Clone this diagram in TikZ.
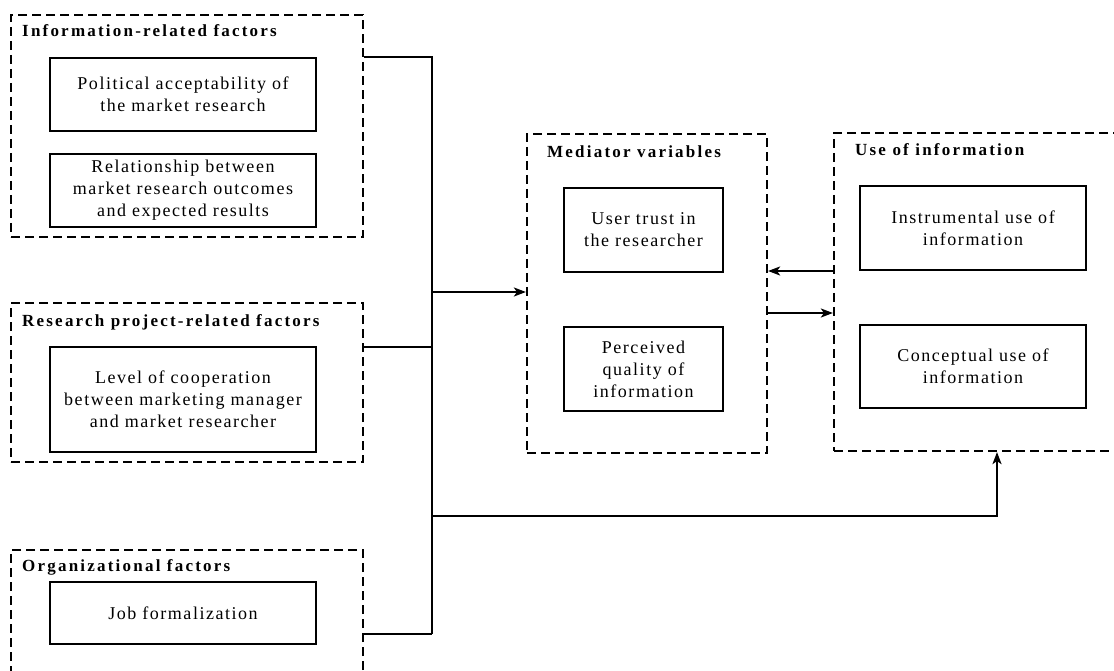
\documentclass[tikz,border=0pt]{standalone}
\usepackage{fontspec}
\setmainfont{Liberation Serif}
\newfontfamily\bodyfont{Liberation Serif}[LetterSpace=8.5]
\newfontfamily\headfont{Liberation Serif Bold}[LetterSpace=13]
\usetikzlibrary{arrows.meta}
\begin{document}
\begin{tikzpicture}[x=1pt,y=-1pt,
  group/.style={draw, dashed, dash pattern=on 9pt off 5pt, line width=2.2pt, inner sep=0pt},
  item/.style={draw, line width=1.5pt, inner sep=0pt, align=center,
    font=\bodyfont\fontsize{18}{22}\selectfont},
  head/.style={anchor=base west, inner sep=0pt, font=\headfont\fontsize{17}{20}\selectfont},
  link/.style={line width=1.7pt},
  arr/.style={line width=1.9pt, -{Stealth[length=12pt,width=9pt,inset=3pt]}}]
\useasboundingbox (0,0) rectangle (1114,671);
\clip (0,0) rectangle (1114,671);
% groups
\node[group, minimum width=352pt, minimum height=222pt] (G1) at (187,126) {};
\node[group, minimum width=352pt, minimum height=159pt] (G2) at (187,382.5) {};
\node[group, minimum width=352pt, minimum height=160pt] (G3) at (187,630) {};
\node[group, minimum width=240pt, minimum height=319pt] (M) at (647,293.5) {};
\node[group, minimum width=300pt, minimum height=318pt] (U) at (984,292) {};
% titles
\node[head] (T1) at (22,37) {Information-related factors};
\node[head] (T2) at (22,326) {Research project-related factors};
\node[head] (T3) at (22,571) {Organizational factors};
\node[head] (TM) at (547,158) {Mediator variables};
\node[head] (TU) at (855,156) {Use of information};
% items
\node[item, minimum width=266pt, minimum height=73pt] (I1a) at (183,94.5) {Political acceptability of\\the market research};
\node[item, minimum width=266pt, minimum height=73pt] (I1b) at (183,190.5) {Relationship between\\market research outcomes\\and expected results};
\node[item, minimum width=266pt, minimum height=105pt] (I2) at (183,399.5) {Level of cooperation\\between marketing manager\\and market researcher};
\node[item, minimum width=266pt, minimum height=62pt] (I3) at (183,613) {Job formalization};
\node[item, minimum width=159pt, minimum height=84pt] (M1) at (643.5,230) {User trust in\\the researcher};
\node[item, minimum width=159pt, minimum height=84pt] (M2) at (643.5,369) {Perceived\\quality of\\information};
\node[item, minimum width=226pt, minimum height=84pt] (U1) at (973,228) {Instrumental use of\\information};
\node[item, minimum width=226pt, minimum height=83pt] (U2) at (973,366.5) {Conceptual use of\\information};
% junctions
\coordinate (j1) at (432,57);
\coordinate (j2) at (432,347);
\coordinate (j3) at (432,634);
\coordinate (jm) at (432,292);
\coordinate (jb) at (432,516);
\coordinate (jc) at (997,516);
\coordinate (ua) at (834,271);
\coordinate (ub) at (834,313);
% connectors
\draw[link] (G1.east |- j1) -- (j1) -- (j3);
\draw[link] (G2.east |- j2) -- (j2);
\draw[link] (G3.east |- j3) -- (j3);
\draw[arr] (jm) -- (M.west |- jm);
\draw[arr] (U.west |- ua) -- (M.east |- ua);
\draw[arr] (M.east |- ub) -- (U.west |- ub);
\draw[arr] (jb) -- (jc) -- (U.south -| jc);
\end{tikzpicture}
\end{document}
